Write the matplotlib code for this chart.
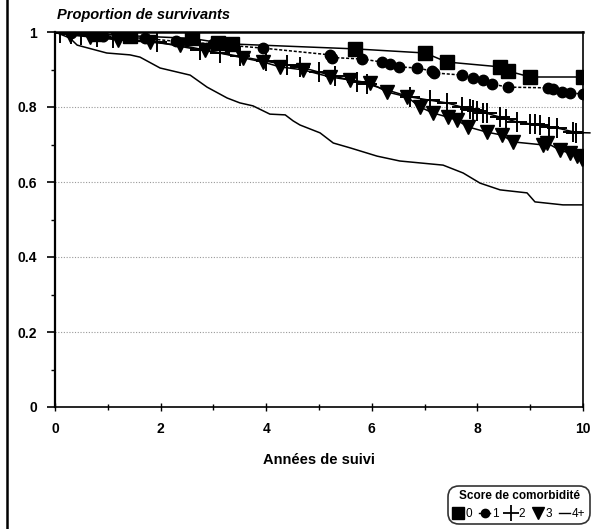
import matplotlib
matplotlib.use("Agg")
import matplotlib.pyplot as plt
from matplotlib.lines import Line2D

plt.rcParams['font.family'] = ['Liberation Sans', 'DejaVu Sans']

# survival curves (years, proportion)
t0 = [0, 0.81, 1.42, 2.59, 3.09, 3.36, 5.68, 7.01, 7.42, 8.43, 8.58, 9.0, 10]
s0 = [1, 0.995, 0.99, 0.983, 0.972, 0.968, 0.955, 0.944, 0.92, 0.907, 0.896, 0.88, 0.88]

t1 = [0, 0.3, 0.9, 1.7, 2.3, 3.0, 3.94, 5.21, 5.25, 5.81, 6.19, 6.34, 6.52, 6.86, 7.14,
      7.18, 7.71, 7.92, 8.11, 8.28, 8.58, 9.34, 9.43, 9.60, 9.75, 10]
s1 = [1, 0.997, 0.99, 0.983, 0.975, 0.968, 0.957, 0.939, 0.932, 0.928, 0.92, 0.915,
      0.907, 0.904, 0.896, 0.891, 0.885, 0.877, 0.872, 0.861, 0.853, 0.851, 0.848,
      0.84, 0.837, 0.835]

t2 = [0, 0.1, 0.3, 0.5, 0.8, 1.1, 1.93, 2.75, 3.13, 3.5, 4.0, 4.4, 4.64, 5.0, 5.3,
      5.72, 5.9, 6.72, 7.1, 7.42, 7.7, 7.86, 7.92, 8.0, 8.1, 8.18, 8.43, 8.55, 8.75,
      9.0, 9.09, 9.19, 9.35, 9.51, 9.81, 9.86]
s2 = [1, 0.998, 0.995, 0.992, 0.988, 0.985, 0.973, 0.952, 0.944, 0.935, 0.922, 0.912,
      0.907, 0.893, 0.882, 0.867, 0.862, 0.827, 0.818, 0.811, 0.80, 0.794, 0.792,
      0.789, 0.785, 0.783, 0.773, 0.768, 0.76, 0.755, 0.754, 0.752, 0.748, 0.744,
      0.734, 0.732]
t2_end = [9.86, 10.13]
s2_end = [0.732, 0.731]

t3 = [0, 0.28, 0.66, 1.19, 1.80, 2.37, 2.84, 3.56, 3.94, 4.26, 4.70, 5.21, 5.59, 5.97,
      6.29, 6.67, 6.91, 7.16, 7.44, 7.61, 7.82, 8.18, 8.47, 8.67, 9.24, 9.32, 9.56,
      9.75, 9.88, 9.98]
s3 = [1, 0.992, 0.987, 0.979, 0.973, 0.965, 0.952, 0.931, 0.92, 0.907, 0.899, 0.88,
      0.872, 0.864, 0.84, 0.827, 0.80, 0.784, 0.773, 0.765, 0.747, 0.733, 0.725,
      0.707, 0.699, 0.704, 0.685, 0.677, 0.668, 0.662]

t4 = [0, 0.28, 0.42, 0.98, 1.42, 1.61, 1.99, 2.56, 2.88, 3.26, 3.50, 3.75, 4.07, 4.36,
      4.51, 4.64, 5.02, 5.27, 5.59, 6.10, 6.53, 7.35, 7.73, 8.05, 8.43, 8.94, 9.09,
      9.62, 10]
s4 = [1, 0.984, 0.965, 0.944, 0.939, 0.933, 0.904, 0.885, 0.853, 0.824, 0.811, 0.803,
      0.781, 0.779, 0.763, 0.752, 0.731, 0.704, 0.691, 0.669, 0.656, 0.645, 0.624,
      0.597, 0.579, 0.571, 0.547, 0.539, 0.539]

fig = plt.figure(figsize=(5.94, 5.29), dpi=100)
ax = fig.add_axes([55 / 594, 1 - 407 / 529, 528 / 594, 375 / 529])

ax.plot(t4, s4, color='black', lw=1.1, zorder=3)
ax.plot(t3, s3, color='black', lw=1.1, marker='v', ms=9.5, markevery=slice(1, None), zorder=4)
ax.plot(t2, s2, color='black', lw=1.1, marker='+', ms=14, mew=1.4,
        markevery=slice(1, None), zorder=4)
ax.plot(t2_end, s2_end, color='black', lw=1.1, clip_on=False, zorder=4)
ax.plot(t1, s1, color='black', lw=1.1, ls=(0, (2, 1.2)), marker='o', ms=7.5,
        markevery=slice(1, None), zorder=5)
ax.plot(t0, s0, color='black', lw=1.1, marker='s', ms=10, markevery=slice(1, None),
        zorder=5)

ax.set_xlim(0, 10)
ax.set_ylim(0, 1)
ax.set_xticks([0, 2, 4, 6, 8, 10])
ax.set_xticks([1, 3, 5, 7, 9], minor=True)
ax.set_yticks([0, 0.2, 0.4, 0.6, 0.8, 1])
ax.set_yticklabels(['0', '0.2', '0.4', '0.6', '0.8', '1'])
ax.set_yticks([0.1, 0.3, 0.5, 0.7, 0.9], minor=True)
ax.tick_params(axis='y', which='major', direction='out', length=6, width=1.2,
               labelsize=10, pad=7)
ax.tick_params(axis='y', which='minor', direction='out', length=3, width=1)
ax.tick_params(axis='x', which='major', direction='inout', length=6, width=1,
               labelsize=10, pad=8)
ax.tick_params(axis='x', which='minor', direction='inout', length=4, width=1)
for lab in ax.get_xticklabels() + ax.get_yticklabels():
    lab.set_fontweight('bold')

for y in [0.2, 0.4, 0.6, 0.8]:
    ax.axhline(y, color='#999999', lw=0.8, ls=(0, (1, 1.5)), zorder=1)

for sp in ax.spines.values():
    sp.set_linewidth(1.2)
ax.spines['top'].set_linewidth(1.8)
ax.spines['left'].set_linewidth(1.6)

ax.set_xlabel('Années de suivi', fontsize=10.5, fontweight='bold', labelpad=12)
fig.text(57 / 594, 1 - 15 / 529, 'Proportion de survivants', fontsize=10.5,
         fontweight='bold', style='italic', va='center', ha='left')

handles = [
    Line2D([], [], color='black', marker='s', ls='none', ms=8),
    Line2D([], [], color='black', marker='o', ls='-', lw=1, ms=6),
    Line2D([], [], color='black', marker='+', ls='none', ms=11, mew=1.3),
    Line2D([], [], color='black', marker='v', ls='none', ms=8),
    Line2D([], [], color='black', ls='-', lw=1),
]
leg = fig.legend(handles, ['0', '1', '2', '3', '4+'], ncol=5, loc='center',
                 bbox_to_anchor=(519 / 594, 1 - 505 / 529), title='Score de comorbidité',
                 fontsize=8.5, title_fontsize=8.5, handlelength=0.9, handletextpad=0.2,
                 columnspacing=0.6, borderpad=0.25, frameon=True)
leg.get_title().set_fontweight('bold')
frame = leg.get_frame()
frame.set_edgecolor('black')
frame.set_linewidth(1.2)
frame.set_boxstyle('round,pad=0.1,rounding_size=0.9')

# page border on the left of the scan
fig.add_artist(Line2D([7 / 594, 7 / 594], [0, 1], color='black', lw=1.8,
                      transform=fig.transFigure))

fig.savefig('out.png', dpi=100)
